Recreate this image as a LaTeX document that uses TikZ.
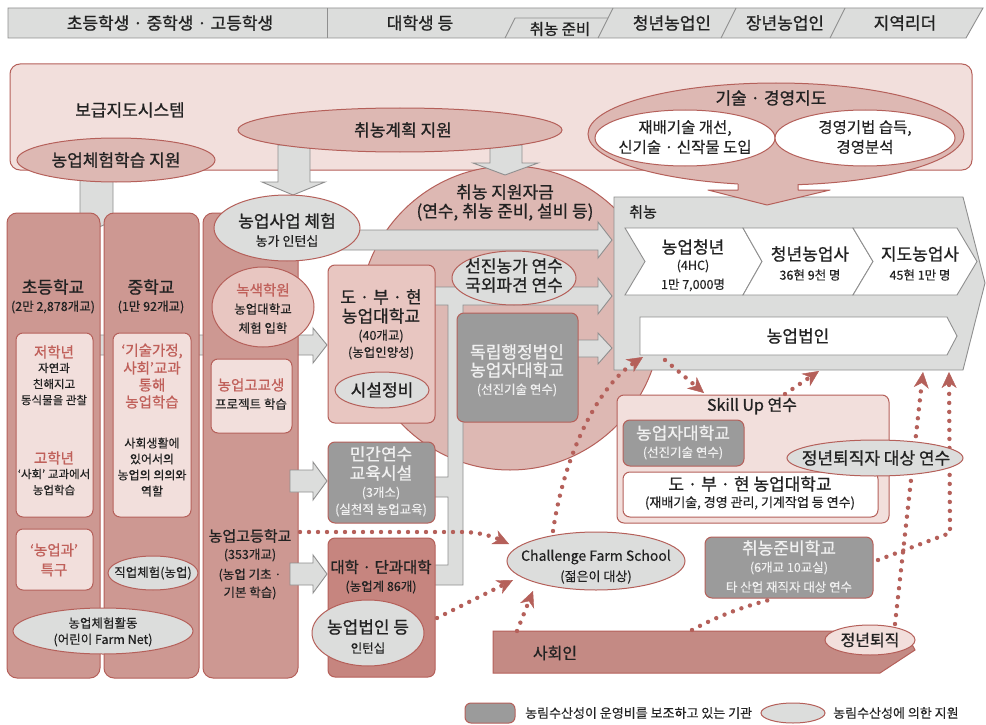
\documentclass[tikz,border=0pt]{standalone}
\usepackage{fontspec}
\setmainfont{Noto Sans CJK KR}[FakeBold=0.3]
\newfontfamily\bfam{Noto Sans CJK KR}[FakeBold=0.9]
\usetikzlibrary{shapes.geometric,arrows.meta}
\newcommand\fsz[1]{\fontsize{#1}{#1}\selectfont}
\definecolor{bord}{HTML}{B5605A}
\definecolor{lpink}{HTML}{F2DFDC}
\definecolor{mpink}{HTML}{DDB8B3}
\definecolor{colpink}{HTML}{CD9892}
\definecolor{darkpink}{HTML}{C6857F}
\definecolor{socpink}{HTML}{C48A84}
\definecolor{boxpink}{HTML}{E8C6C1}
\definecolor{gfill}{HTML}{DCDDDC}
\definecolor{gbord}{HTML}{8F8F8F}
\definecolor{gbox}{HTML}{9B9B9B}
\definecolor{gtext}{HTML}{F0F0F0}
\definecolor{redtext}{HTML}{C0605A}
\definecolor{txt}{HTML}{222222}
\newcommand\rbx[6]{\node[#1, inner sep=0pt, minimum width={(#5-#3)*1pt}, minimum height={(#6-#4)*1pt}] (#2) at ({(#3+#5)/2},{(#4+#6)/2}) {};}
\newcommand\elx[6]{\node[#1, ellipse, inner sep=0pt, minimum width={2*#5*1pt}, minimum height={2*#6*1pt}] (#2) at (#3,#4) {};}
\newcommand\tx[5][tbig]{\node[#1] (#2) at (#3,#4) {#5};}
\tikzset{
  lab/.style={inner sep=0pt, text=txt},
  tbig/.style={lab, font=\bfam\fsz{17}},
  thdr/.style={lab, font=\bfam\fsz{17}},
  tmid/.style={lab, font=\bfam\fsz{14.5}},
  twel/.style={lab, font=\fsz{15.5}},
  tsml/.style={lab, font=\fsz{12.5}},
  tcol/.style={lab, font=\fsz{11.5}},
  redt/.style={text=redtext},
  wtt/.style={text=gtext},
  hdr/.style={draw=gbord, fill=gfill, line width=0.9pt},
  hline/.style={draw=gbord, line width=0.9pt},
  lpbox/.style={draw=bord, fill=lpink, line width=1pt, rounded corners=7pt},
  colbox/.style={draw=bord, fill=colpink, line width=1pt, rounded corners=10pt},
  grbox/.style={draw=bord, fill=gbox, line width=1pt, rounded corners=7pt},
  whbox/.style={draw=bord, fill=white, line width=1pt, rounded corners=7pt},
  pkbox/.style={draw=bord, fill=boxpink, line width=1pt, rounded corners=7pt},
  dkbox/.style={draw=bord, fill=darkpink, line width=1pt, rounded corners=7pt},
  gell/.style={draw=bord, fill=gfill, line width=1pt},
  pell/.style={draw=bord, fill=mpink, line width=1pt},
  wellp/.style={draw=bord, fill=white, line width=1pt},
  band/.style={draw=gbord, fill=gfill, line width=0.9pt},
  chev/.style={draw=gbord, fill=white, line width=0.9pt},
  dotl/.style={draw=bord, line width=4.4pt, line cap=round, dash pattern=on 0pt off 9pt},
  dota/.style={dotl, -{Stealth[length=16pt,width=15pt,inset=5pt,line width=0.4pt]}},
}
\begin{document}
\begin{tikzpicture}[x=1pt,y=-1pt]
\useasboundingbox (0,0) rectangle (986,725);
\fill[white] (0,0) rectangle (986,725);

% ---------- header ----------
\draw[hdr] (8,8) -- (983,8) -- (966,38) -- (8,38) -- cycle;
\draw[hline] (327,8) -- (327,38);
\draw[hline] (505,38) -- (515,18) -- (608,18);
\draw[hline] (598,38) -- (613,8);
\draw[hline] (721,38) -- (736,8);
\draw[hline] (830,38) -- (845,8);
\tx[thdr]{h1}{170}{23}{초등학생 · 중학생 · 고등학생}
\tx[thdr]{h2}{420}{23}{대학생 등}
\node[lab, font=\bfam\fsz{15.5}] (h3) at (560,29) {취농 준비};
\tx[thdr]{h4}{672}{23}{청년농업인}
\tx[thdr]{h5}{785}{23}{장년농업인}
\tx[thdr]{h6}{905}{23}{지역리더}

% ---------- extension system ----------
\rbx{lpbox, rounded corners=10pt}{sys}{10}{64}{972}{170}
\tx{sysl}{130}{110}{보급지도시스템}
\elx{pell}{fund}{510}{318}{151}{152}

\draw[band] (80,175) -- (113,175) -- (113,215) -- (126,215) -- (97,228) -- (67,215) -- (80,215) -- cycle;
\draw[band] (278,145) -- (310,145) -- (310,182) -- (325,182) -- (293,195) -- (262,182) -- (278,182) -- cycle;
\draw[band] (490,145) -- (522,145) -- (522,163) -- (538,163) -- (505,175) -- (473,163) -- (490,163) -- cycle;

\elx{pell}{exp}{116}{160}{99}{22}
\tx{expl}{116}{160}{농업체험학습 지원}
\elx{pell}{plan}{400}{130}{162}{22}
\tx{planl}{403}{130}{취농계획 지원}
\elx{pell}{tech}{776}{134}{188}{51}
\tx{techl}{771}{98}{기술 · 경영지도}
\elx{wellp}{tw1}{685}{138}{90}{28}
\elx{wellp}{tw2}{865}{138}{90}{28}
\tx[twel]{te1a}{685}{128}{재배기술 개선,}
\tx[twel]{te1b}{685}{147}{신기술 · 신작물 도입}
\tx[twel]{te2a}{865}{128}{경영기법 습득,}
\tx[twel]{te2b}{865}{147}{경영분석}

\tx{f1}{505}{192}{취농 지원자금}
\tx{f2}{505}{212}{(연수, 취농 준비, 설비 등)}

% ---------- left columns ----------
\draw[band] (50,335) -- (313,335) -- (313,328) -- (327,345) -- (313,363) -- (313,355) -- (50,355) -- cycle;
\rbx{colbox}{c1}{7}{213}{100}{678}
\rbx{colbox}{c2}{104}{213}{199}{678}
\rbx{colbox}{c3}{203}{213}{298}{678}

\tx{c1t}{53}{287}{초등학교}
\tx[tsml]{c1n}{53}{307}{(2만 2,878개교)}
\rbx{lpbox}{c1box}{16}{333}{93}{517}
\tx[tmid,redt]{c1a}{54}{352}{저학년}
\tx[tcol]{c1b}{54}{368}{자연과}
\tx[tcol]{c1c}{54}{384}{친해지고}
\tx[tcol]{c1d}{54}{400}{동식물을 관찰}
\tx[tmid,redt]{c1e}{54}{458}{고학년}
\tx[tcol]{c1f}{54}{474}{‘사회’ 교과에서}
\tx[tcol]{c1g}{54}{490}{농업학습}
\rbx{lpbox}{c1box2}{16}{529}{93}{590}
\tx[tmid,redt]{c1h}{54}{550}{‘농업과’}
\tx[tmid,redt]{c1i}{54}{570}{특구}

\tx{c2t}{151}{287}{중학교}
\tx[tsml]{c2n}{151}{307}{(1만 92개교)}
\rbx{lpbox}{c2box}{113}{333}{191}{517}
\tx[tmid,redt]{c2a}{152}{351}{‘기술가정,}
\tx[tmid,redt]{c2b}{152}{368}{사회’교과}
\tx[tmid,redt]{c2c}{152}{385}{통해}
\tx[tmid,redt]{c2d}{152}{402}{농업학습}
\node[lab, font=\fsz{12}] (c2e) at (152,443) {사회생활에};
\node[lab, font=\fsz{12}] (c2f) at (152,459) {있어서의};
\node[lab, font=\fsz{12}] (c2g) at (152,475) {농업의 의의와};
\node[lab, font=\fsz{12}] (c2h) at (152,491) {역할};
\elx{gell}{job}{153}{573}{45}{17}
\node[lab, font=\fsz{12.5}] (jobl) at (153,573) {직업체험(농업)};
\elx{gell}{farmnet}{103}{631}{90}{23}
\node[lab, font=\fsz{12.5}] (fn1) at (103,623) {농업체험활동};
\node[lab, font=\fsz{12.5}] (fn2) at (103,640) {(어린이 Farm Net)};

\elx{pkbox}{green}{263}{307}{51}{40}
\tx[tmid,redt]{gr1}{263}{290}{녹색학원}
\tx[tsml]{gr2}{263}{309}{농업대학교}
\tx[tsml]{gr3}{263}{328}{체험 입학}
\rbx{lpbox}{hsbox}{211}{359}{292}{433}
\tx[tmid,redt]{hs1}{251}{385}{농업고교생}
\tx[tsml]{hs2}{251}{404}{프로젝트 학습}
\node[lab, font=\bfam\fsz{15}] (c3t) at (250,536) {농업고등학교};
\tx[tsml]{c3n}{250}{555}{(353개교)}
\tx[tsml]{c3a}{250}{575}{(농업 기초 ·}
\tx[tsml]{c3b}{250}{593}{기본 학습)}

\draw[band] (290,470) -- (313,470) -- (313,462) -- (327,481) -- (313,500) -- (313,492) -- (290,492) -- cycle;
\draw[band] (290,563) -- (313,563) -- (313,555) -- (327,574) -- (313,593) -- (313,585) -- (290,585) -- cycle;

% ---------- bands to employment ----------
\draw[band] (330,230) -- (598,230) -- (598,222) -- (612,240) -- (598,258) -- (598,250) -- (330,250) -- cycle;
\draw[band] (430,287) -- (598,287) -- (598,278) -- (612,296) -- (598,314) -- (598,305) -- (463,305) -- (463,585) -- (430,585) -- (430,565) -- (448,565) -- (448,497) -- (430,497) -- (430,477) -- (448,477) -- (448,305) -- (430,305) -- cycle;
\draw[band] (570,340) -- (598,340) -- (598,333) -- (612,348) -- (598,364) -- (598,357) -- (570,357) -- cycle;

\elx{gell}{intern}{287}{228}{73}{33}
\tx{in1}{287}{221}{농업사업 체험}
\node[lab, font=\fsz{13}] (in2) at (287,241) {농가 인턴십};

\rbx{pkbox}{dbh}{328}{265}{435}{423}
\tx{db1}{381}{297}{도 · 부 · 현}
\tx{db2}{381}{316}{농업대학교}
\tx[tsml]{db3}{381}{336}{(40개교)}
\tx[tsml]{db4}{381}{353}{(농업인양성)}
\elx{gell}{fac}{382}{390}{47}{18}
\tx{facl}{382}{390}{시설정비}

\rbx{grbox}{priv}{328}{442}{435}{523}
\tx[tbig,wtt]{pv1}{381}{454}{민간연수}
\tx[tbig,wtt]{pv2}{381}{473}{교육시설}
\tx[tsml,wtt]{pv3}{381}{493}{(3개소)}
\tx[tsml,wtt]{pv4}{381}{510}{(실천적 농업교육)}

\rbx{dkbox}{univ}{328}{538}{435}{677}
\node[lab, font=\bfam\fsz{15.5}] (un1) at (381,567) {대학 · 단과대학};
\tx[tsml]{un2}{381}{587}{(농업계 86개)}
\elx{gell}{corp}{368}{633}{56}{33}
\tx{co1}{368}{627}{농업법인 등}
\tx[tsml]{co2}{368}{648}{인턴십}

\elx{gell}{adv}{514}{278}{62}{27}
\tx{ad1}{514}{266}{선진농가 연수}
\tx{ad2}{514}{285}{국외파견 연수}
\rbx{grbox}{inst}{457}{313}{578}{422}
\tx[tbig,wtt]{is1}{517}{352}{독립행정법인}
\tx[tbig,wtt]{is2}{517}{370}{농업자대학교}
\tx[tsml,wtt]{is3}{517}{390}{(선진기술 연수)}

% ---------- employment ----------
\draw[band] (614,197) -- (963,197) -- (985,283) -- (963,370) -- (614,370) -- cycle;
\node[lab, font=\bfam\fsz{15}] (empl) at (643,212) {취농};
\draw[chev] (625,228) -- (743,228) -- (762,261.5) -- (743,295) -- (625,295) -- (645,261.5) -- cycle;
\draw[chev] (743,228) -- (853,228) -- (873,261.5) -- (853,295) -- (743,295) -- (762,261.5) -- cycle;
\draw[chev] (853,228) -- (957,228) -- (977,261.5) -- (957,295) -- (853,295) -- (873,261.5) -- cycle;
\draw[chev] (640,317) -- (947,317) -- (957,336) -- (947,355) -- (640,355) -- cycle;
\tx{ch1}{693}{247}{농업청년}
\tx[tsml]{ch1b}{693}{266}{(4HC)}
\tx[tsml]{ch1c}{693}{285}{1만 7,000명}
\tx{ch2}{810}{254}{청년농업사}
\tx[tsml]{ch2b}{810}{275}{36현 9천 명}
\tx{ch3}{920}{254}{지도농업사}
\tx[tsml]{ch3b}{920}{275}{45현 1만 명}
\tx{corpl}{798}{336}{농업법인}

\fill[mpink] (738,176) -- (798,176) -- (798,190) -- (830,190) -- (767,205) -- (708,190) -- (738,190) -- cycle;
\draw[bord, line width=1pt, line join=round] (738,184) -- (738,190) -- (708,190) -- (767,205) -- (830,190) -- (798,190) -- (798,184);

% ---------- skill up ----------
\rbx{lpbox}{skill}{617}{395}{889}{523}
\node[lab, font=\bfam\fsz{16}] (skl) at (752,406) {Skill Up 연수};
\rbx{grbox}{nja}{623}{420}{744}{466}
\tx[tbig,wtt]{nj1}{683}{433}{농업자대학교}
\tx[tsml,wtt]{nj2}{683}{453}{(선진기술 연수)}
\rbx{whbox}{dbh2}{623}{472}{878}{517}
\tx{dw1}{750}{484}{도 · 부 · 현 농업대학교}
\node[lab, font=\fsz{13}] (dw2) at (750,503) {(재배기술, 경영 관리, 기계작업 등 연수)};

\rbx{grbox}{prep}{705}{537}{873}{598}
\tx[tbig,wtt]{pr1}{789}{548}{취농준비학교}
\tx[tsml,wtt]{pr2}{789}{568}{(6개교 10교실)}
\tx[tsml,wtt]{pr3}{789}{587}{타 산업 재직자 대상 연수}

\elx{gell}{cfs}{596}{561}{89}{29}
\node[lab, font=\fsz{14}] (cf1) at (596,557) {Challenge Farm School};
\node[lab, font=\fsz{13}] (cf2) at (596,577) {(젊은이 대상)};

\draw[draw=bord, fill=socpink, line width=1pt] (493,631) -- (905,631) -- (915,650) -- (880,673) -- (493,673) -- cycle;
\node[lab, font=\bfam\fsz{16}] (socl) at (555,653) {사회인};

% ---------- dotted connectors ----------
\coordinate (d1a) at (300,532);
\coordinate (d1b) at (509,544);
\coordinate (d2a) at (437,618);
\coordinate (d2b) at (513,580);
\coordinate (d3a) at (517,631);
\coordinate (d3b) at (533,591);
\coordinate (d4a) at (553,531);
\coordinate (d4b) at (643,357);
\coordinate (d5a) at (665,360);
\coordinate (d5b) at (704,393);
\coordinate (d6a) at (785,394);
\coordinate (d6b) at (819,371);
\coordinate (d7a) at (692,630);
\coordinate (d7b) at (773,599);
\coordinate (d7c) at (878,560);
\coordinate (d7m) at (950,533);
\coordinate (d7d) at (949,372);
\coordinate (d8a) at (895,624);
\coordinate (d8b) at (923,372);
\draw[dota] (d1a) -- (462,532) .. controls (480,532) and (494,537) .. (d1b);
\draw[dota] (d2a) -- (d2b);
\draw[dota] (d3a) -- (d3b);
\draw[dota] (d4a) .. controls (565,450) and (600,385) .. (d4b);
\draw[dota] (d5a) -- (d5b);
\draw[dota] (d6a) -- (d6b);
\draw[dotl] (d7a) .. controls (720,615) and (745,606) .. (d7b);
\draw[dota] (d7c) -- (d7m) -- (d7d);
\draw[dota] (d8a) -- (d8b);

\elx{gell}{retc}{875}{458}{88}{18}
\tx{rc1}{876}{458}{정년퇴직자 대상 연수}
\elx{draw=bord, fill=lpink, line width=1pt}{ret}{870}{640}{45}{15}
\node[lab, font=\bfam\fsz{16}] (rt1) at (870,640) {정년퇴직};

% ---------- legend ----------
\rbx{grbox, rounded corners=6pt}{lg1}{465}{703}{515}{723}
\node[lab, font=\fsz{13}, anchor=west] (lg1t) at (525,713) {농림수산성이 운영비를 보조하고 있는 기관};
\elx{gell}{lg2}{793}{713}{32}{10}
\node[lab, font=\fsz{13}, anchor=west] (lg2t) at (833,713) {농림수산성에 의한 지원};
\end{tikzpicture}
\end{document}
